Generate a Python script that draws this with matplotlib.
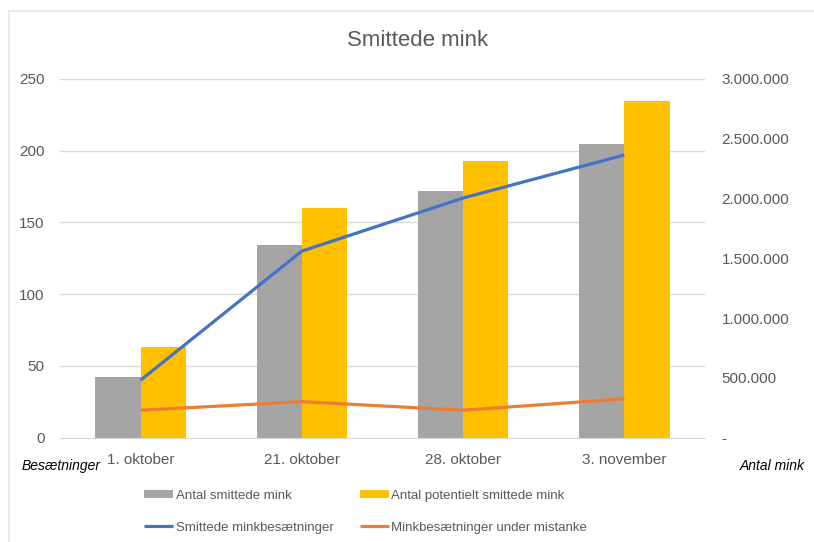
import matplotlib.pyplot as plt
from matplotlib.lines import Line2D
from matplotlib.ticker import FuncFormatter

plt.rcParams['font.family'] = ['Liberation Sans', 'DejaVu Sans']

datoer = ['1. oktober', '21. oktober', '28. oktober', '3. november']
smittede_mink = [509000, 1610000, 2063000, 2453000]
potentielt_smittede = [760000, 1920000, 2314000, 2820000]
smittede_besaetninger = [40, 130, 167, 197]
mistanke_besaetninger = [19, 25, 19, 27]

W, H = 814, 542
fig = plt.figure(figsize=(W / 100, H / 100), dpi=100)

l, r, b, t = 60, 705, 437.5, 79
ax_m = fig.add_axes([l / W, 1 - b / H, (r - l) / W, (b - t) / H])
ax_b = ax_m.twinx()
ax_b.set_zorder(ax_m.get_zorder() + 1)
ax_b.patch.set_visible(False)

x = list(range(len(datoer)))
bw = 0.28
ax_m.bar([i - bw / 2 for i in x], smittede_mink, bw, color='#A5A5A5',
         label='Antal smittede mink', zorder=2)
ax_m.bar([i + bw / 2 for i in x], potentielt_smittede, bw, color='#FFC000',
         label='Antal potentielt smittede mink', zorder=2)

ax_b.plot(x, smittede_besaetninger, color='#4472C4', lw=2.3,
          label='Smittede minkbesætninger', solid_capstyle='butt')
ax_b.plot(x, mistanke_besaetninger, color='#ED7D31', lw=2.3,
          label='Minkbesætninger under mistanke', solid_capstyle='butt')

ax_m.set_xlim(-0.5, len(datoer) - 0.5)
ax_m.set_ylim(0, 3000000)
ax_b.set_ylim(0, 250)
ax_b.set_yticks(range(0, 251, 50))
ax_m.set_yticks(range(0, 3000001, 500000))

# gridlines follow the left axis but sit behind the bars
ratio = 3000000 / 250
for v in range(50, 251, 50):
    ax_m.axhline(v * ratio, color='#D9D9D9', lw=1, zorder=0)

ax_m.yaxis.tick_right()
ax_b.yaxis.tick_left()
ax_m.yaxis.set_major_formatter(
    FuncFormatter(lambda v, p: '-' if v == 0 else f'{v:,.0f}'.replace(',', '.')))

for a in (ax_m, ax_b):
    for s in a.spines.values():
        s.set_visible(False)
    a.tick_params(length=0, colors='#595959', labelsize=11)
ax_m.spines['bottom'].set_visible(True)
ax_m.spines['bottom'].set_color('#D9D9D9')
ax_m.set_xticks(x)
ax_m.set_xticklabels(datoer)
ax_m.tick_params(axis='x', pad=11)
ax_m.tick_params(axis='y', pad=12)
ax_b.tick_params(axis='y', pad=11)

fig.text(418 / W, 1 - 40 / H, 'Smittede mink', ha='center', va='center',
         fontsize=16, color='#595959')
fig.text(22 / W, 1 - 466 / H, 'Besætninger', ha='left', va='center',
         fontsize=10, style='italic', color='#000000')
fig.text(772 / W, 1 - 466 / H, 'Antal mink', ha='center', va='center',
         fontsize=10, style='italic', color='#000000')

h1, l1 = ax_m.get_legend_handles_labels()
h2, l2 = ax_b.get_legend_handles_labels()
# legend fills column by column, so interleave to get rows like the original
handles = [h1[0], h2[0], h1[1], h2[1]]
labels = [l1[0], l2[0], l1[1], l2[1]]
fig.legend(handles, labels, ncol=2, loc='upper left',
           bbox_to_anchor=(132 / W, 1 - 478 / H), frameon=False, fontsize=9.5,
           labelcolor='#595959', handlelength=2.2, handleheight=0.6,
           handletextpad=0.2, columnspacing=2.0, labelspacing=1.5)

fig.add_artist(Line2D([9 / W, 1], [1 - 11 / H, 1 - 11 / H], color='#E6E6E6', lw=1.2))
fig.add_artist(Line2D([9 / W, 9 / W], [0, 1 - 11 / H], color='#E6E6E6', lw=1.2))

fig.savefig('out.png', dpi=100)
